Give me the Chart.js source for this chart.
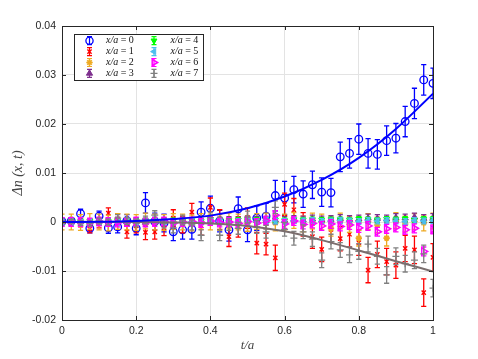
<!DOCTYPE html>
<html>
<head>
<meta charset="utf-8">
<script src="https://cdn.jsdelivr.net/npm/chart.js@4.4.1/dist/chart.umd.min.js"></script>
<style>
  body { margin: 0; background: #fff; }
  #wrap { width: 478px; height: 359px; }
</style>
</head>
<body>
<div id="wrap"><canvas id="c" width="478" height="359"></canvas></div>
<script>
// t/a sample points
const t = [0,0.025,0.05,0.075,0.1,0.125,0.15,0.175,0.2,0.225,0.25,0.275,0.3,0.325,0.35,0.375,0.4,0.425,0.45,0.475,0.5,
  0.525,0.55,0.575,0.6,0.625,0.65,0.675,0.7,0.725,0.75,0.775,0.8,0.825,0.85,0.875,0.9,0.925,0.95,0.975,1];

const seriesNames = ['x/a = 0','x/a = 1','x/a = 2','x/a = 3','x/a = 4','x/a = 5','x/a = 6','x/a = 7'];

const dn0 = [0.0001,0.0002,0.0017,-0.0013,0.0012,-0.0012,-0.001,0.0003,-0.0013,0.0039,0.0001,-0.0002,-0.002,-0.0016,-0.0015,0.002,0.0028,0.0002,-0.0016,0.0027,-0.0016,
  0.0008,0.0012,0.0054,0.0049,0.0066,0.0057,0.0076,0.0061,0.006,0.0133,0.014,0.0169,0.014,0.0138,0.0166,0.0171,0.0205,0.0242,0.029,0.0283];
const err0 = [0.0004,0.0006,0.0009,0.0009,0.001,0.0011,0.0012,0.0012,0.0013,0.0021,0.0017,0.0018,0.0018,0.0019,0.002,0.0021,0.0025,0.0022,0.0023,0.0024,0.0024,
  0.0025,0.0026,0.0031,0.0034,0.0027,0.0027,0.0028,0.0029,0.0029,0.003,0.003,0.0031,0.003,0.003,0.003,0.003,0.0031,0.0031,0.0031,0.0031];

const dn1 = [0,0.0002,-0.0003,-0.0014,-0.0003,0.0018,0.0005,-0.002,-0.0008,-0.0021,-0.002,-0.0012,0.0008,-0.0005,0.002,-0.0008,0.003,0.0005,-0.003,-0.001,0.0008,
  -0.0043,-0.0045,-0.0073,0.0036,0.0025,-0.0005,-0.003,-0.0056,-0.0015,-0.0034,-0.0025,-0.0042,-0.0098,-0.0066,-0.0081,-0.0088,-0.0054,-0.0057,-0.0144,-0.0072];
const err1 = [0.0005,0.0006,0.0007,0.0008,0.0009,0.0011,0.0012,0.0013,0.0014,0.0015,0.0015,0.0016,0.0017,0.0017,0.0018,0.0019,0.0019,0.002,0.002,0.0021,0.0021,
  0.0022,0.0022,0.0026,0.0023,0.0023,0.0024,0.0024,0.0025,0.0025,0.0025,0.0026,0.0026,0.0026,0.0027,0.0027,0.0027,0.0027,0.0028,0.0028,0.0028];

const dn2 = [0,0,-0.0001,0.0001,0,-0.0002,0.0001,0,-0.0001,0.0002,0,-0.0001,0.0001,0,-0.0002,0.0001,0,-0.0001,0.0002,0,-0.0003,
  0.0001,0.0002,-0.0002,0,0.0003,-0.0004,0.0002,0,-0.0013,0.0002,-0.0005,-0.0033,0.0001,-0.0006,-0.0033,0.0003,-0.0004,0.0001,-0.0002,0.0002];
const err2 = 0.0016;

const dn3 = [0,0,0.0001,-0.0001,0.0001,0,0.0002,0,0.0001,-0.0001,0.0002,0.0001,0,0.0002,0.0001,0.0003,0.0001,0.0002,0.0003,0.0002,0.0004,
  0.0003,0.0002,0.0004,0.0003,0.0005,0.0004,0.0006,0.0004,0.0005,0.0007,0.0005,0.0006,0.0008,0.0007,0.0006,0.0009,0.0008,0.001,0.0007,0.0009];
const err3 = 0.0008;

const dn4 = [0,0.0001,0.0001,0.0002,0,0.0001,0.0002,0.0001,0.0002,0.0003,0.0001,0.0002,0.0003,0.0002,0.0003,0.0002,0.0003,0.0004,0.0003,0.0004,0.0003,
  0.0004,0.0005,0.0004,0.0003,0.0005,0.0004,0.0005,0.0004,0.0005,0.0005,0.0004,0.0006,0.0005,0.0004,0.0006,0.0005,0.0006,0.0004,0.0006,0.0006];
const err4 = 0.0005;

const dn5 = [0,0,-0.0001,0.0001,0,0.0001,-0.0001,0.0002,0,0.0001,0.0002,0,0.0001,0.0002,0.0001,0,0.0002,0.0001,0.0003,0.0001,0.0002,
  0.0001,0.0003,0.0002,0.0001,0.0003,0.0002,0.0003,0.0001,0.0002,0.0003,0.0002,0.0001,0.0003,0.0002,0.0003,0.0002,0.0001,0.0003,0.0002,0.0003];
const err5 = 0.0006;

const dn6 = [0,0,0,-0.0001,0.0001,0,-0.0001,0,0.0001,-0.0001,0,0.0001,-0.0002,0,0.0001,-0.0002,0.0002,-0.0001,0,-0.0003,0.0001,
  -0.0002,0.0003,0.0014,-0.0004,0.0002,-0.0005,-0.0003,-0.0008,-0.0004,-0.0009,-0.0006,-0.0012,-0.0008,-0.002,-0.0014,-0.0011,-0.0016,-0.0013,-0.006,-0.0015];
const err6 = 0.0009;

const dn7 = [0,0.0001,-0.0002,-0.0003,0.0002,0,0.0008,0.0002,-0.0002,0.0004,0.0014,-0.0003,-0.0012,0.0004,-0.0006,-0.0027,0.0009,-0.0027,-0.0005,-0.0013,0.001,
  -0.001,-0.002,0.003,-0.0015,-0.0033,-0.002,-0.0035,-0.0078,-0.004,-0.0057,-0.0067,-0.006,-0.0045,-0.007,-0.0108,-0.007,-0.0085,-0.0078,-0.0065,-0.0135];
const err7 = [0.0003,0.0004,0.0005,0.0005,0.0006,0.0006,0.0007,0.0007,0.0008,0.0008,0.0009,0.0009,0.001,0.001,0.001,0.0011,0.0011,0.0011,0.0012,0.0012,0.0012,
  0.0013,0.0013,0.0013,0.0014,0.0014,0.0014,0.0015,0.0015,0.0015,0.0015,0.0016,0.0016,0.0016,0.0016,0.0017,0.0017,0.0017,0.0017,0.0018,0.0018];

// fitted curves
const fitT = [0,0.1,0.2,0.3,0.4,0.5,0.6,0.7,0.8,0.9,1];
const fitBlue = [0,0.00003,0.0002,0.0006,0.0013,0.0028,0.0052,0.0086,0.0131,0.019,0.0262];
const fitGray = [0,0,0,-0.0001,-0.0003,-0.0008,-0.0019,-0.0037,-0.0058,-0.008,-0.0101];

const xTicks = [0,0.2,0.4,0.6,0.8,1];
const xTickLabels = ['0','0.2','0.4','0.6','0.8','1'];
const yTicks = [-0.02,-0.01,0,0.01,0.02,0.03,0.04];
const yTickLabels = ['-0.02','-0.01','0','0.01','0.02','0.03','0.04'];

const pts = vals => t.map((x, i) => ({x: x, y: vals[i]}));
const line = (xs, ys) => xs.map((x, i) => ({x: x, y: ys[i]}));

// marker look per series
const styles = [
  {c: '#0000ff', ps: 'circle', r: 3.8, rot: 0, fill: 'rgba(0,0,0,0)', bw: 1.3},
  {c: '#ff0000', ps: 'crossRot', r: 3, rot: 0, fill: '#ff0000', bw: 1.4},
  {c: '#eeaa22', ps: 'star', r: 3.2, rot: 0, fill: '#eeaa22', bw: 1.6},
  {c: '#7e2f8e', ps: 'triangle', r: 3.6, rot: 0, fill: '#7e2f8e', bw: 1},
  {c: '#00ff00', ps: 'triangle', r: 3.4, rot: 180, fill: '#00ff00', bw: 1},
  {c: '#4dbeee', ps: 'triangle', r: 3.4, rot: 270, fill: '#4dbeee', bw: 1},
  {c: '#ff00ff', ps: 'triangle', r: 4, rot: 90, fill: 'rgba(0,0,0,0)', bw: 1.5},
  {c: '#808080', ps: 'cross', r: 3.5, rot: 0, fill: '#808080', bw: 1.3}
];
const allVals = [dn0, dn1, dn2, dn3, dn4, dn5, dn6, dn7];
const allErr = [err0, err1, err2, err3, err4, err5, err6, err7];

const datasets = allVals.map((v, i) => ({
  label: seriesNames[i],
  data: pts(v),
  err: allErr[i],
  showLine: false,
  borderColor: styles[i].c,
  backgroundColor: styles[i].fill,
  pointStyle: styles[i].ps,
  pointRadius: styles[i].r,
  pointRotation: styles[i].rot,
  pointBorderWidth: styles[i].bw,
  order: 20 - i
}));
datasets.push({
  label: 'fit0', data: line(fitT, fitBlue), showLine: true, borderColor: '#0000ff', borderWidth: 2,
  pointRadius: 0, tension: 0.4, cubicInterpolationMode: 'monotone', order: 1
});
datasets.push({
  label: 'fit7', data: line(fitT, fitGray), showLine: true, borderColor: '#7a6e6e', borderWidth: 2,
  pointRadius: 0, tension: 0.4, cubicInterpolationMode: 'monotone', order: 2
});

const axisColor = '#262626';

const errorBars = {
  id: 'errorBars',
  beforeDatasetDraw(chart, args) {
    const ds = chart.data.datasets[args.index];
    if (ds.err === undefined) return;
    const xs = chart.scales.x, ys = chart.scales.y, ctx = chart.ctx, a = chart.chartArea;
    const cap = 2.6;
    ctx.save();
    ctx.beginPath();
    ctx.rect(a.left, a.top, a.right - a.left, a.bottom - a.top);
    ctx.clip();
    ctx.strokeStyle = ds.borderColor;
    ctx.lineWidth = 1.3;
    ds.data.forEach((p, i) => {
      const e = Array.isArray(ds.err) ? ds.err[i] : ds.err;
      const x = xs.getPixelForValue(p.x);
      const y0 = ys.getPixelForValue(p.y - e), y1 = ys.getPixelForValue(p.y + e);
      ctx.beginPath();
      ctx.moveTo(x, y0); ctx.lineTo(x, y1);
      ctx.moveTo(x - cap, y0); ctx.lineTo(x + cap, y0);
      ctx.moveTo(x - cap, y1); ctx.lineTo(x + cap, y1);
      ctx.stroke();
    });
    ctx.restore();
  }
};

const frame = {
  id: 'frame',
  afterDatasetsDraw(chart) {
    const ctx = chart.ctx, a = chart.chartArea, xs = chart.scales.x, ys = chart.scales.y;
    ctx.save();
    ctx.strokeStyle = axisColor;
    ctx.lineWidth = 1;
    const tl = 4;
    ctx.beginPath();
    xTicks.forEach(v => {
      const x = Math.round(xs.getPixelForValue(v)) + 0.5;
      ctx.moveTo(x, a.bottom); ctx.lineTo(x, a.bottom - tl);
      ctx.moveTo(x, a.top); ctx.lineTo(x, a.top + tl);
    });
    yTicks.forEach(v => {
      const y = Math.round(ys.getPixelForValue(v)) + 0.5;
      ctx.moveTo(a.left, y); ctx.lineTo(a.left + tl, y);
      ctx.moveTo(a.right, y); ctx.lineTo(a.right - tl, y);
    });
    ctx.stroke();
    ctx.strokeRect(Math.round(a.left) + 0.5, Math.round(a.top) + 0.5,
      Math.round(a.right - a.left), Math.round(a.bottom - a.top));
    ctx.restore();
  },
  afterDraw(chart) {
    // legend box inside the axes, two columns
    const ctx = chart.ctx, a = chart.chartArea;
    const bx = a.left + 12, by = a.top + 8, bw = 129, bh = 46;
    ctx.save();
    ctx.fillStyle = '#fff';
    ctx.fillRect(bx, by, bw, bh);
    ctx.strokeStyle = axisColor;
    ctx.lineWidth = 1;
    ctx.strokeRect(Math.round(bx) + 0.5, Math.round(by) + 0.5, bw, bh);
    const h = Chart.helpers;
    seriesNames.forEach((name, i) => {
      const col = Math.floor(i / 4), row = i % 4;
      const mx = bx + 15.5 + col * 64.5, my = by + 6.7 + row * 10.9;
      const s = styles[i];
      ctx.strokeStyle = s.c;
      ctx.lineWidth = 1.2;
      ctx.beginPath();
      ctx.moveTo(mx, my - 4); ctx.lineTo(mx, my + 4);
      ctx.moveTo(mx - 2.5, my - 4); ctx.lineTo(mx + 2.5, my - 4);
      ctx.moveTo(mx - 2.5, my + 4); ctx.lineTo(mx + 2.5, my + 4);
      ctx.stroke();
      if (h && h.drawPoint) {
        ctx.fillStyle = s.fill;
        ctx.strokeStyle = s.c;
        ctx.lineWidth = s.bw;
        h.drawPoint(ctx, {pointStyle: s.ps, rotation: s.rot, radius: Math.min(s.r, 3.6), borderWidth: s.bw}, mx, my);
      }
      const parts = name.split(' = ');
      const tx = mx + 16.5;
      ctx.fillStyle = '#111';
      ctx.textBaseline = 'middle';
      ctx.font = 'italic 10px "Liberation Serif"';
      ctx.fillText(parts[0], tx, my);
      const w = ctx.measureText(parts[0]).width;
      ctx.font = '10px "Liberation Serif"';
      ctx.fillText(' = ' + parts[1], tx + w, my);
    });
    ctx.restore();
  }
};

new Chart(document.getElementById('c'), {
  type: 'scatter',
  data: {datasets: datasets},
  options: {
    responsive: false,
    animation: false,
    events: [],
    layout: {padding: {left: 0, right: 45, top: 26, bottom: 0}},
    plugins: {legend: {display: false}, tooltip: {enabled: false}},
    scales: {
      x: {
        type: 'linear', min: 0, max: 1,
        afterFit: s => { s.height = 39; },
        afterBuildTicks: s => { s.ticks = xTicks.map(v => ({value: v})); },
        grid: {color: '#e3e3e3', drawTicks: false},
        border: {display: false},
        ticks: {
          padding: 5, color: axisColor, maxRotation: 0,
          font: {family: '"Liberation Sans", Arial, sans-serif', size: 10.5},
          callback: (v, i) => xTickLabels[i]
        },
        title: {
          display: true, text: 't/a', color: '#444',
          font: {family: '"Liberation Serif", serif', size: 13, style: 'italic'},
          padding: {top: 0, bottom: 6}
        }
      },
      y: {
        type: 'linear', min: -0.02, max: 0.04,
        afterFit: s => { s.width = 62; },
        afterBuildTicks: s => { s.ticks = yTicks.map(v => ({value: v})); },
        grid: {color: '#e3e3e3', drawTicks: false},
        border: {display: false},
        ticks: {
          padding: 6, color: axisColor,
          font: {family: '"Liberation Sans", Arial, sans-serif', size: 10.5},
          callback: (v, i) => yTickLabels[i]
        },
        title: {
          display: true, text: '\u0394n (x, t)', color: '#444',
          font: {family: '"Liberation Serif", serif', size: 14, style: 'italic'},
          padding: {top: 10, bottom: 0}
        }
      }
    }
  },
  plugins: [errorBars, frame]
});
</script>
</body>
</html>
